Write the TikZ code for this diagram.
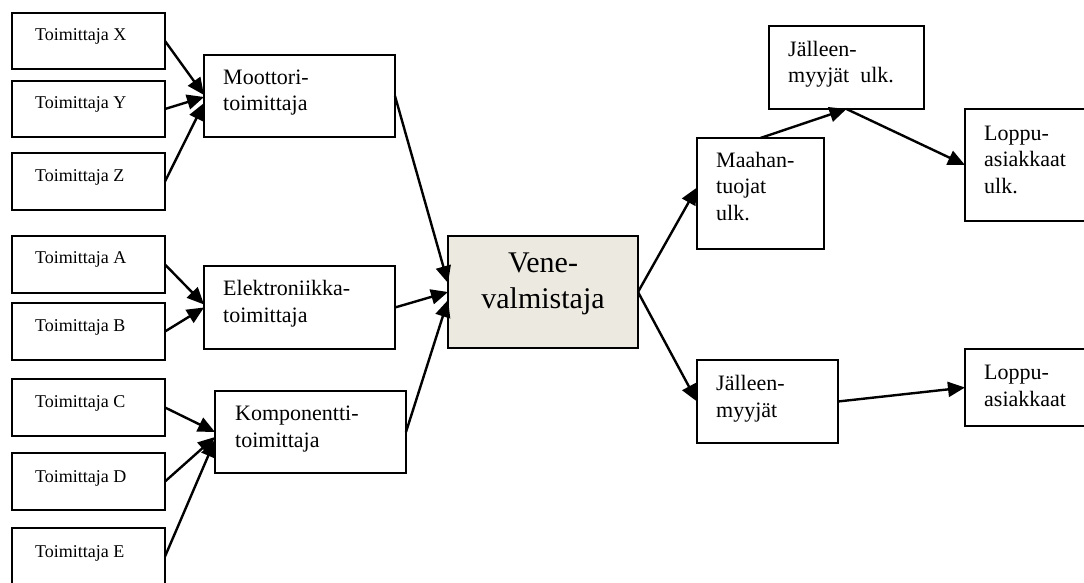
\documentclass[tikz,border=0pt]{standalone}
\usepackage{fontspec}
\setmainfont{Liberation Serif}
\usetikzlibrary{arrows.meta,calc}
\definecolor{venefill}{RGB}{236,233,224}
\begin{document}
\begin{tikzpicture}[x=1pt,y=-1pt,
  box/.style={draw,line width=1.8pt,inner sep=0pt,outer sep=0pt,rectangle,anchor=north west},
  suptext/.style={font=\fontsize{18}{22}\selectfont,inner sep=0pt,anchor=base west},
  boxtext/.style={font=\fontsize{22}{26.5}\selectfont,inner sep=0pt,anchor=base west,align=left},
  flow/.style={line width=2.4pt,-{Triangle[length=17pt,width=15pt]}},
]
\useasboundingbox (0,0) rectangle (1084,583);
\clip (0,0) rectangle (1084,583);

% suppliers
\node[box,minimum width=153pt,minimum height=56pt] (sx) at (12,13) {};
\node[box,minimum width=153pt,minimum height=56pt] (sy) at (12,81) {};
\node[box,minimum width=153pt,minimum height=57pt] (sz) at (12,153) {};
\node[box,minimum width=153pt,minimum height=57pt] (sa) at (12,236) {};
\node[box,minimum width=153pt,minimum height=57pt] (sb) at (12,303) {};
\node[box,minimum width=153pt,minimum height=57pt] (sc) at (12,379) {};
\node[box,minimum width=153pt,minimum height=57pt] (sd) at (12,453) {};
\node[box,minimum width=153pt,minimum height=57pt] (se) at (12,528) {};
\node[suptext] (tx) at (35,41) {Toimittaja X};
\node[suptext] (ty) at (35,109) {Toimittaja Y};
\node[suptext] (tz) at (35,181) {Toimittaja Z};
\node[suptext] (ta) at (35,263) {Toimittaja A};
\node[suptext] (tb) at (35,331) {Toimittaja B};
\node[suptext] (tc) at (35,407) {Toimittaja C};
\node[suptext] (td) at (35,482) {Toimittaja D};
\node[suptext] (te) at (35,557) {Toimittaja E};

% first-tier suppliers (text anchored at the baseline of the last line)
\node[box,minimum width=191pt,minimum height=82pt] (mot) at (204,55) {};
\node[box,minimum width=191pt,minimum height=83pt] (ele) at (204,266) {};
\node[box,minimum width=191pt,minimum height=82pt] (kom) at (215,391) {};
\node[boxtext] (tmot) at (223,111) {Moottori-\\toimittaja};
\node[boxtext] (tele) at (223,322) {Elektroniikka-\\toimittaja};
\node[boxtext] (tkom) at (235,447) {Komponentti-\\toimittaja};

% boat builder
\node[box,fill=venefill,minimum width=190pt,minimum height=112pt] (ven) at (448,236) {};
\node[font=\fontsize{30}{36}\selectfont,inner sep=0pt,anchor=base,align=center] (tven) at (543,308) {Vene-\\valmistaja};

% sales channels
\node[box,minimum width=127pt,minimum height=111pt] (maa) at (697,138) {};
\node[box,minimum width=155pt,minimum height=83pt] (jmu) at (769,26) {};
\node[box,minimum width=125pt,minimum height=112pt] (lau) at (965,109) {};
\node[box,minimum width=141pt,minimum height=83pt] (jm) at (697,360) {};
\node[box,minimum width=125pt,minimum height=77pt] (la) at (965,349) {};
\node[boxtext] (tmaa) at (716,220) {Maahan-\\tuojat\\ulk.};
\node[boxtext] (tjmu) at (788,83) {Jälleen-\\myyjät\ \ ulk.};
\node[boxtext] (tlau) at (984,193) {Loppu-\\asiakkaat\\ulk.};
\node[boxtext] (tjm) at (716,417) {Jälleen-\\myyjät};
\node[boxtext] (tla) at (984,406) {Loppu-\\asiakkaat};

% connectors
\draw[flow] (sx.east) -- ($(mot.west)+(0,-1)$);
\draw[flow] (sy.east) -- ($(mot.west)+(0,1)$);
\draw[flow] (sz.east) -- ($(mot.west)+(0,7)$);
\draw[flow] (sa.east) -- ($(ele.west)+(0,-3)$);
\draw[flow] (sb.east) -- ($(ele.west)+(0,0)$);
\draw[flow] (sc.east) -- (kom.west);
\draw[flow] (sd.east) -- ($(kom.west)+(0,5)$);
\draw[flow] (se.east) -- ($(kom.west)+(0,8)$);
\draw[flow] (mot.east) -- ($(ven.west)+(0,-9)$);
\draw[flow] (ele.east) -- (ven.west);
\draw[flow] (kom.east) -- ($(ven.west)+(0,8)$);
\draw[flow] (ven.east) -- ($(maa.west)+(0,-6)$);
\draw[flow] (ven.east) -- (jm.west);
\draw[flow] (maa.north) -- (jmu.south);
\draw[flow] (jmu.south) -- (lau.west);
\draw[flow] (jm.east) -- (la.west);
\end{tikzpicture}
\end{document}
